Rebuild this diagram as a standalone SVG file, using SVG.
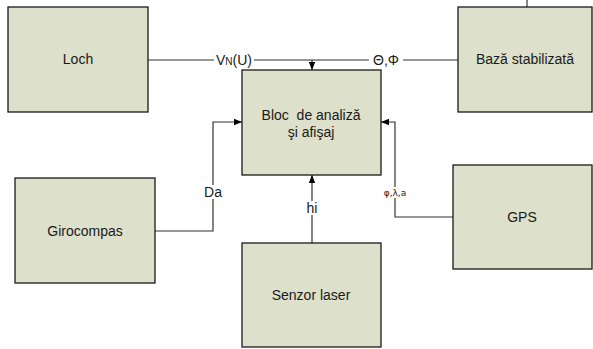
<svg xmlns="http://www.w3.org/2000/svg" width="593" height="349" viewBox="0 0 593 349">
<style>
.box{fill:#DDE0CB;stroke:#1a1a1a;stroke-width:1.3}
.t{font-family:"Liberation Sans",Arial,sans-serif;font-size:14px;fill:#1a1a1a;text-anchor:middle}
.l{font-family:"Liberation Sans",Arial,sans-serif;font-size:14px;fill:#1a1a1a;text-anchor:middle}
.s{font-family:"DejaVu Sans","Liberation Sans",sans-serif;font-size:9px;fill:#1a1a1a;text-anchor:middle}
.w{stroke:#333;stroke-width:1.2;fill:none}
</style>
<defs>
<marker id="a" viewBox="0 0 10 10" refX="10" refY="5" markerWidth="8" markerHeight="8" markerUnits="userSpaceOnUse" orient="auto">
<path d="M0,1 L10,5 L0,9 z" fill="#000"/>
</marker>
</defs>
<rect width="593" height="349" fill="#fff"/>
<g id="connectors">
<path class="w" d="M148,60 H458"/>
<path class="w" d="M312,60 V70" marker-end="url(#a)"/>
<path class="w" d="M527,0 V7"/>
<path class="w" d="M155,231 H213 V122 H242" marker-end="url(#a)"/>
<path class="w" d="M453,217 H395 V122 H381" marker-end="url(#a)"/>
<path class="w" d="M312,243 V175" marker-end="url(#a)"/>
<rect x="214" y="52" width="40" height="16" fill="#fff"/>
<text class="l" x="234" y="65">V<tspan style="font-size:10px">N</tspan>(U)</text>
<rect x="369" y="52" width="34" height="16" fill="#fff"/>
<text class="l" x="386" y="65">Θ,Φ</text>
<rect x="203" y="185" width="21" height="14" fill="#fff"/>
<text class="l" x="213" y="197">Da</text>
<rect x="303" y="201" width="18" height="14" fill="#fff"/>
<text class="l" x="312" y="213">hi</text>
<rect x="383" y="187" width="24" height="11" fill="#fff"/>
<text class="s" x="395" y="196">φ,λ,a</text>
</g>
<g id="loch"><rect class="box" x="8" y="7" width="140" height="105"/><text class="t" x="78" y="64">Loch</text></g>
<g id="baza"><rect class="box" x="458" y="7" width="134" height="105"/><text class="t" x="525" y="64">Bază stabilizată</text></g>
<g id="bloc"><rect class="box" x="242" y="70" width="139" height="105"/><text class="t" x="311" y="120" xml:space="preserve">Bloc  de analiză</text><text class="t" x="311" y="137">şi afişaj</text></g>
<g id="girocompas"><rect class="box" x="15" y="178" width="140" height="105"/><text class="t" x="85" y="236">Girocompas</text></g>
<g id="gps"><rect class="box" x="453" y="165" width="139" height="104"/><text class="t" x="522" y="222">GPS</text></g>
<g id="senzor"><rect class="box" x="242" y="243" width="139" height="104"/><text class="t" x="311" y="300">Senzor laser</text></g>
</svg>
